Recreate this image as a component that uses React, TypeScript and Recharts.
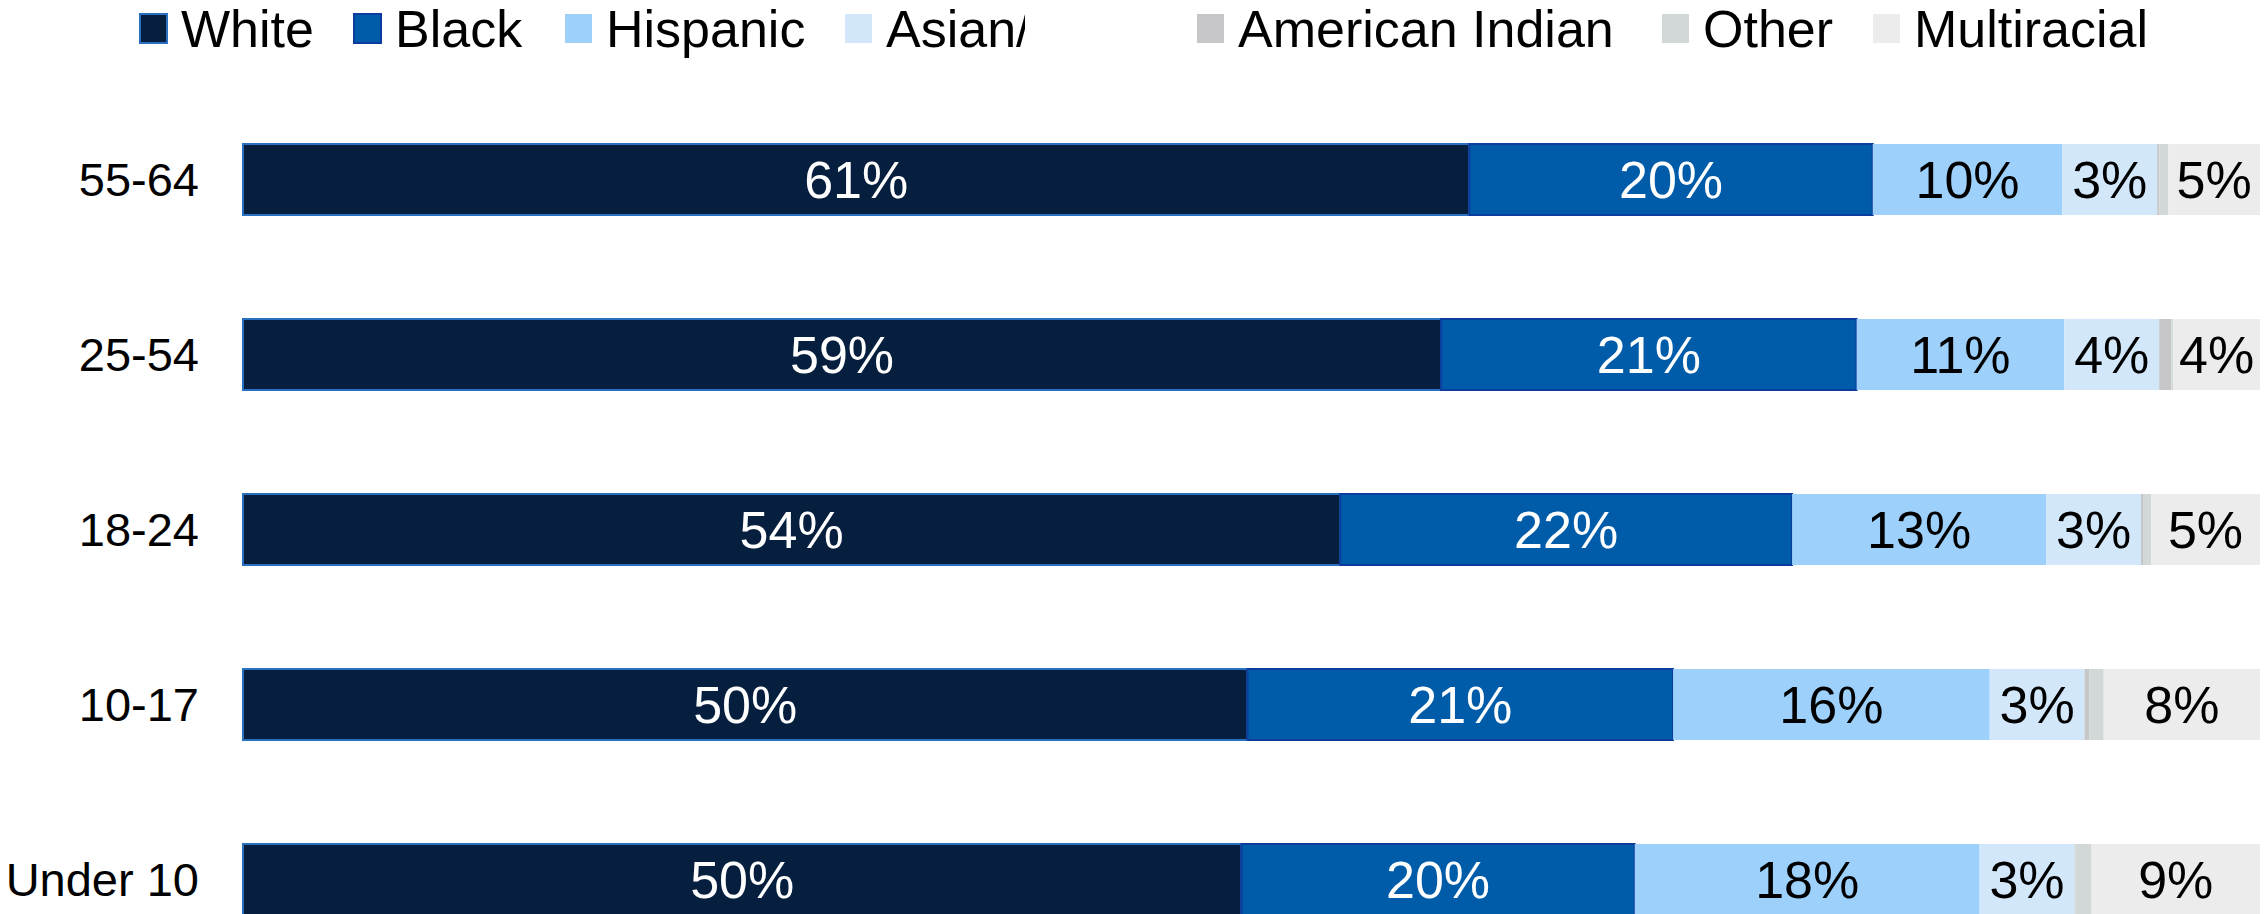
import React from 'react';
import { BarChart, Bar, XAxis, YAxis, LabelList } from 'recharts';

const categories = ['55-64', '25-54', '18-24', '10-17', 'Under 10'];

const seriesNames = ['White', 'Black', 'Hispanic', 'Asian', 'American Indian', 'Other', 'Multiracial'];
const legendLabels = ['White', 'Black', 'Hispanic', 'Asian/', 'American Indian', 'Other', 'Multiracial'];

const white = [60.8, 59.4, 54.4, 49.8, 49.5];
const black = [20.0, 20.6, 22.4, 21.1, 19.5];
const hispanic = [9.4, 10.3, 12.6, 15.7, 17.1];
const asian = [4.7, 4.7, 4.7, 4.7, 4.7];
const americanIndian = [0.1, 0.6, 0.1, 0.25, 0.05];
const other = [0.45, 0.1, 0.4, 0.7, 0.8];
const multiracial = [4.55, 4.3, 5.4, 7.75, 8.35];

const whiteLabels = ['61%', '59%', '54%', '50%', '50%'];
const blackLabels = ['20%', '21%', '22%', '21%', '20%'];
const hispanicLabels = ['10%', '11%', '13%', '16%', '18%'];
const asianLabels = ['3%', '4%', '3%', '3%', '3%'];
const multiracialLabels = ['5%', '4%', '5%', '8%', '9%'];

const seriesValues = [white, black, hispanic, asian, americanIndian, other, multiracial];
const seriesLabels = [whiteLabels, blackLabels, hispanicLabels, asianLabels, null, null, multiracialLabels];

const colors = ['#061f3e', '#005ca9', '#9dd1fc', '#d3e7fb', '#c7c7c9', '#d2d8d8', '#ececec'];
const strokes = ['#2a70c0', '#0b3c9e', 'none', 'none', 'none', 'none', 'none'];
const labelColors = ['#ffffff', '#ffffff', '#000000', '#000000', '#000000', '#000000', '#000000'];

const data = categories.map((cat, i) => {
  const row: any = { cat };
  seriesNames.forEach((name, s) => {
    row[name] = seriesValues[s][i];
    const lab = seriesLabels[s];
    if (lab) row[name + '_label'] = lab[i];
  });
  return row;
});

const FONT = '"Liberation Sans", Arial, sans-serif';
const legendX = [140, 354, 565, 845, 1197, 1662, 1873];

function LegendBar() {
  return (
    <svg width={2265} height={70} style={{ position: 'absolute', left: 0, top: 0 }}>
      <defs>
        <clipPath id="asianClip">
          <rect x={880} y={0} width={145} height={70} />
        </clipPath>
      </defs>
      {seriesNames.map((name, i) => {
        const x = legendX[i];
        return (
          <g key={name}>
            <rect
              x={x}
              y={14}
              width={27}
              height={29}
              fill={colors[i]}
              stroke={strokes[i] === 'none' ? undefined : strokes[i]}
              strokeWidth={2}
            />
            <text
              x={x + 41}
              y={47}
              fontSize={52}
              fontFamily={FONT}
              fill="#000"
              clipPath={i === 3 ? 'url(#asianClip)' : undefined}
            >
              {legendLabels[i]}
            </text>
          </g>
        );
      })}
    </svg>
  );
}

export default function App() {
  return (
    <div
      style={{
        position: 'fixed',
        left: 0,
        top: 0,
        width: 2265,
        height: 914,
        overflow: 'hidden',
        background: '#fff',
        fontFamily: FONT,
      }}
    >
      <BarChart
        width={2265}
        height={970}
        data={data}
        layout="vertical"
        margin={{ top: 92, right: 5, bottom: 3, left: 0 }}
        barSize={71}
      >
        <XAxis type="number" domain={[0, 100]} hide />
        <YAxis
          type="category"
          dataKey="cat"
          width={243}
          axisLine={false}
          tickLine={false}
          tickMargin={38}
          tick={{ fontSize: 47, fill: '#000', fontFamily: FONT }}
        />
        {seriesNames.map((name, i) => (
          <Bar
            key={name}
            dataKey={name}
            stackId="a"
            fill={colors[i]}
            stroke={strokes[i] === 'none' ? undefined : strokes[i]}
            strokeWidth={strokes[i] === 'none' ? 0 : 2}
            isAnimationActive={false}
          >
            {seriesLabels[i] ? (
              <LabelList
                dataKey={name + '_label'}
                position="center"
                fill={labelColors[i]}
                fontSize={52}
                fontFamily={FONT}
              />
            ) : null}
          </Bar>
        ))}
      </BarChart>
      <LegendBar />
    </div>
  );
}
